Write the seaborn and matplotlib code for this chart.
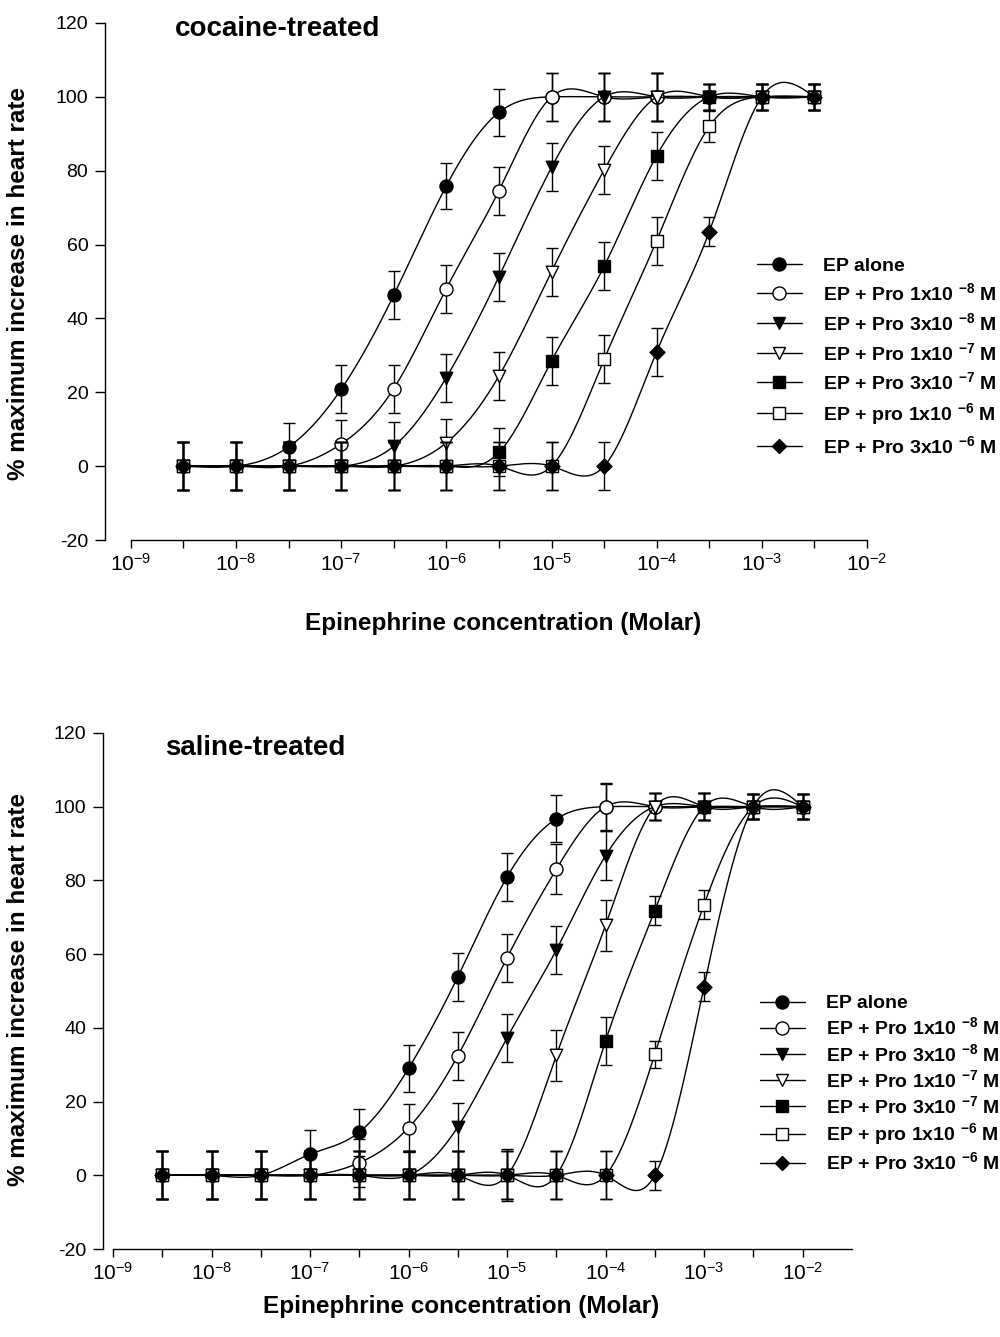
import numpy as np
import pandas as pd
import matplotlib
matplotlib.use("Agg")
import matplotlib.pyplot as plt
import seaborn as sns
from matplotlib.lines import Line2D
from matplotlib.ticker import FixedLocator, FixedFormatter, NullFormatter

# ---------------- data ----------------
series_labels = [
    "EP alone",
    r"EP + Pro 1x10 $^{\mathbf{-8}}$ M",
    r"EP + Pro 3x10 $^{\mathbf{-8}}$ M",
    r"EP + Pro 1x10 $^{\mathbf{-7}}$ M",
    r"EP + Pro 3x10 $^{\mathbf{-7}}$ M",
    r"EP + pro 1x10 $^{\mathbf{-6}}$ M",
    r"EP + Pro 3x10 $^{\mathbf{-6}}$ M",
]
series_markers = ["o", "o", "v", "v", "s", "s", "D"]
series_faces = ["black", "white", "black", "white", "black", "white", "black"]

# log10 of epinephrine concentration (M)
top_log_conc = [-8.5, -8.0, -7.5, -7.0, -6.5, -6.0, -5.5, -5.0, -4.5, -4.0, -3.5, -3.0, -2.5]
bottom_log_conc = [-8.5, -8.0, -7.5, -7.0, -6.5, -6.0, -5.5, -5.0, -4.5, -4.0, -3.5, -3.0, -2.5, -2.0]

# cocaine-treated (top)
top_ep_alone = [0, 0, 5.2, 20.8, 46.3, 75.9, 95.8, 100, 100, 100, 100, 100, 100]
top_pro_1e8 = [0, 0, 0, 6.0, 21.0, 48.1, 74.6, 100, 100, 100, 100, 100, 100]
top_pro_3e8 = [0, 0, 0, 0, 5.4, 24.0, 51.3, 80.9, 100, 100, 100, 100, 100]
top_pro_1e7 = [0, 0, 0, 0, 0, 6.3, 24.4, 52.7, 80.2, 100, 100, 100, 100]
top_pro_3e7 = [0, 0, 0, 0, 0, 0, 3.7, 28.5, 54.1, 84.1, 100, 100, 100]
top_pro_1e6 = [0, 0, 0, 0, 0, 0, 0, 0, 28.9, 61.1, 92.0, 100, 100]
top_pro_3e6 = [0, 0, 0, 0, 0, 0, 0, 0, 0, 31.0, 63.5, 100, 100]

top_sem_ep_alone = [6.5, 6.5, 6.5, 6.5, 6.5, 6.3, 6.3, 6.5, 6.5, 6.5, 3.6, 3.5, 3.5]
top_sem_pro_1e8 = [6.5, 6.5, 6.5, 6.5, 6.5, 6.5, 6.5, 6.5, 6.5, 6.5, 3.6, 3.5, 3.5]
top_sem_pro_3e8 = [6.5, 6.5, 6.5, 6.5, 6.5, 6.5, 6.5, 6.5, 6.5, 6.5, 3.6, 3.5, 3.5]
top_sem_pro_1e7 = [6.5, 6.5, 6.5, 6.5, 6.5, 6.5, 6.5, 6.5, 6.5, 6.5, 3.6, 3.5, 3.5]
top_sem_pro_3e7 = [6.5, 6.5, 6.5, 6.5, 6.5, 6.5, 6.5, 6.5, 6.5, 6.5, 3.6, 3.5, 3.5]
top_sem_pro_1e6 = [6.5, 6.5, 6.5, 6.5, 6.5, 6.5, 6.5, 6.5, 6.5, 6.5, 4.1, 3.5, 3.5]
top_sem_pro_3e6 = [6.5, 6.5, 6.5, 6.5, 6.5, 6.5, 6.5, 6.5, 6.5, 6.5, 3.9, 3.5, 3.5]

# saline-treated (bottom)
bot_ep_alone = [0, 0, 0, 5.7, 11.7, 29.0, 53.8, 80.9, 96.7, 100, 100, 100, 100, 100]
bot_pro_1e8 = [0, 0, 0, 0, 3.4, 12.9, 32.4, 59.0, 83.0, 100, 100, 100, 100, 100]
bot_pro_3e8 = [0, 0, 0, 0, 0, 0, 13.1, 37.3, 61.1, 86.7, 100, 100, 100, 100]
bot_pro_1e7 = [0, 0, 0, 0, 0, 0, 0, 0, 32.5, 67.8, 100, 100, 100, 100]
bot_pro_3e7 = [0, 0, 0, 0, 0, 0, 0, 0, 0, 36.4, 71.8, 100, 100, 100]
bot_pro_1e6 = [0, 0, 0, 0, 0, 0, 0, 0, 0, 0, 32.8, 73.4, 100, 100]
bot_pro_3e6 = [0, 0, 0, 0, 0, 0, 0, 0, 0, 0, 0, 51.2, 100, 100]

bot_sem_ep_alone = [6.5, 6.5, 6.5, 6.5, 6.4, 6.3, 6.4, 6.4, 6.4, 6.5, 3.6, 3.6, 3.4, 3.4]
bot_sem_pro_1e8 = [6.5, 6.5, 6.5, 6.5, 6.5, 6.5, 6.5, 6.5, 6.8, 6.2, 3.6, 3.6, 3.4, 3.4]
bot_sem_pro_3e8 = [6.5, 6.5, 6.5, 6.5, 6.5, 6.5, 6.5, 6.5, 6.5, 6.7, 3.6, 3.6, 3.4, 3.4]
bot_sem_pro_1e7 = [6.5, 6.5, 6.5, 6.5, 6.5, 6.5, 6.5, 7.0, 6.8, 6.9, 3.6, 3.6, 3.4, 3.4]
bot_sem_pro_3e7 = [6.5, 6.5, 6.5, 6.5, 6.5, 6.5, 6.5, 6.5, 6.5, 6.6, 3.9, 3.6, 3.4, 3.4]
bot_sem_pro_1e6 = [6.5, 6.5, 6.5, 6.5, 6.5, 6.5, 6.5, 6.5, 6.5, 6.5, 3.6, 3.9, 3.4, 3.4]
bot_sem_pro_3e6 = [6.5, 6.5, 6.5, 6.5, 6.5, 6.5, 6.5, 6.5, 6.5, 6.5, 4.0, 3.9, 3.4, 3.4]

y_ticks = [-20, 0, 20, 40, 60, 80, 100, 120]
x_decade_exps = [-9, -8, -7, -6, -5, -4, -3, -2]
x_tick_labels = [r"$10^{-9}$", r"$10^{-8}$", r"$10^{-7}$", r"$10^{-6}$",
                 r"$10^{-5}$", r"$10^{-4}$", r"$10^{-3}$", r"$10^{-2}$"]
panel_titles = ["cocaine-treated", "saline-treated"]
x_label = "Epinephrine concentration (Molar)"
y_label = "% maximum increase in heart rate"

top_values = [top_ep_alone, top_pro_1e8, top_pro_3e8, top_pro_1e7, top_pro_3e7, top_pro_1e6, top_pro_3e6]
top_sems = [top_sem_ep_alone, top_sem_pro_1e8, top_sem_pro_3e8, top_sem_pro_1e7, top_sem_pro_3e7,
            top_sem_pro_1e6, top_sem_pro_3e6]
bot_values = [bot_ep_alone, bot_pro_1e8, bot_pro_3e8, bot_pro_1e7, bot_pro_3e7, bot_pro_1e6, bot_pro_3e6]
bot_sems = [bot_sem_ep_alone, bot_sem_pro_1e8, bot_sem_pro_3e8, bot_sem_pro_1e7, bot_sem_pro_3e7,
            bot_sem_pro_1e6, bot_sem_pro_3e6]

# ---------------- style ----------------
sns.set_theme(style="ticks")
plt.rcParams["font.family"] = ["Liberation Sans", "DejaVu Sans"]
plt.rcParams["mathtext.fontset"] = "custom"
plt.rcParams["mathtext.rm"] = "Liberation Sans"
plt.rcParams["mathtext.it"] = "Liberation Sans:italic"
plt.rcParams["mathtext.bf"] = "Liberation Sans:bold"
plt.rcParams["axes.unicode_minus"] = False

marker_sizes = {"o": 88, "v": 80, "s": 70, "D": 58}
legend_ms = {"o": 9.4, "v": 9.0, "s": 8.4, "D": 7.6}


def smooth_curve(xk, yk, num=400):
    """Natural cubic spline through the data points (for drawing the curve)."""
    xk = np.asarray(xk, float)
    yk = np.asarray(yk, float)
    n = len(xk)
    h = np.diff(xk)
    A = np.zeros((n, n))
    b = np.zeros(n)
    A[0, 0] = 1.0
    A[-1, -1] = 1.0
    for i in range(1, n - 1):
        A[i, i - 1] = h[i - 1]
        A[i, i] = 2 * (h[i - 1] + h[i])
        A[i, i + 1] = h[i]
        b[i] = 6 * ((yk[i + 1] - yk[i]) / h[i] - (yk[i] - yk[i - 1]) / h[i - 1])
    M = np.linalg.solve(A, b)
    xs = np.linspace(xk[0], xk[-1], num)
    idx = np.clip(np.searchsorted(xk, xs) - 1, 0, n - 2)
    x0 = xk[idx]
    x1 = xk[idx + 1]
    hh = x1 - x0
    t0 = x1 - xs
    t1 = xs - x0
    ys = ((M[idx] * t0 ** 3 + M[idx + 1] * t1 ** 3) / (6 * hh)
          + (yk[idx] / hh - M[idx] * hh / 6) * t0
          + (yk[idx + 1] / hh - M[idx + 1] * hh / 6) * t1)
    return xs, ys


def draw_panel(ax, log_conc, values, sems):
    conc = 10.0 ** np.asarray(log_conc)
    for i, (vals, sem, mk, fc, lab) in enumerate(zip(values, sems, series_markers, series_faces, series_labels)):
        base = 10 + 3 * i
        xs, ys = smooth_curve(log_conc, vals)
        ax.plot(10.0 ** xs, ys, color="black", lw=1.0, zorder=base)
        ax.errorbar(conc, vals, yerr=sem, fmt="none", ecolor="black", elinewidth=1.0,
                    capsize=4, capthick=1.0, zorder=base + 1)
        df = pd.DataFrame({"conc": conc, "resp": vals})
        sns.scatterplot(data=df, x="conc", y="resp", marker=mk, color=fc, edgecolor="black",
                        linewidth=1.0, s=marker_sizes[mk], ax=ax, zorder=base + 2, legend=False)


def style_axes(ax, xlim_exp, spine_right_exp, long_ticks, low_labels, title, title_xy, legend_anchor,
               labelspacing, xlabel_xy, ylabel_xy):
    ax.set_xscale("log")
    ax.set_xlim(10.0 ** xlim_exp[0], 10.0 ** xlim_exp[1])
    ax.set_ylim(-20, 120)
    ax.set_yticks(y_ticks)
    for side in ["top", "right"]:
        ax.spines[side].set_visible(False)
    ax.spines["left"].set_bounds(-20, 120)
    ax.spines["bottom"].set_bounds(10.0 ** -9, 10.0 ** spine_right_exp)
    for side in ["left", "bottom"]:
        ax.spines[side].set_linewidth(1.0)
        ax.spines[side].set_color("black")
    decade_pos = [10.0 ** e for e in x_decade_exps if e <= spine_right_exp + 1e-9]
    labels = x_tick_labels[:len(decade_pos)]
    half_pos = [10.0 ** (e + 0.5) for e in x_decade_exps if e + 0.5 < spine_right_exp - 1e-9]
    ax.xaxis.set_major_locator(FixedLocator(decade_pos))
    ax.xaxis.set_major_formatter(FixedFormatter(labels))
    ax.xaxis.set_minor_locator(FixedLocator(half_pos))
    ax.xaxis.set_minor_formatter(NullFormatter())
    ax.tick_params(axis="x", which="both", direction="out", length=6, width=1.0, color="black",
                   labelsize=15, pad=3, labelcolor="black")
    ax.tick_params(axis="y", which="major", direction="out", length=7, width=1.0, color="black",
                   labelsize=14, pad=5, labelcolor="black")
    for t in ax.xaxis.get_major_ticks():
        e_loc = np.log10(t.get_loc())
        if any(abs(e_loc - e) < 1e-6 for e in long_ticks):
            t.tick1line.set_markersize(13)
        if any(abs(e_loc - e) < 1e-6 for e in low_labels):
            t.set_pad(11)
    ax.set_xlabel(x_label, fontsize=17.5, fontweight="bold", color="black")
    ax.set_ylabel(y_label, fontsize=17.5, fontweight="bold", color="black")
    ax.xaxis.set_label_coords(*xlabel_xy)
    ax.yaxis.set_label_coords(*ylabel_xy)
    ax.text(title_xy[0], title_xy[1], title, transform=ax.transAxes, fontsize=20,
            fontweight="bold", ha="left", va="center", color="black")
    handles = [Line2D([0], [0], color="black", lw=1.0, marker=mk, markerfacecolor=fc,
                      markeredgecolor="black", markeredgewidth=1.0, markersize=legend_ms[mk])
               for mk, fc in zip(series_markers, series_faces)]
    leg = ax.legend(handles, series_labels, loc="upper left", bbox_to_anchor=legend_anchor,
                    bbox_transform=ax.figure.transFigure, frameon=False, borderpad=0,
                    borderaxespad=0, handlelength=2.3, handletextpad=1.1, labelspacing=labelspacing,
                    prop={"weight": "bold", "size": 14})
    for txt in leg.get_texts():
        txt.set_color("black")


fig = plt.figure(figsize=(10, 13.37), dpi=100)
fig.patch.set_facecolor("white")

ax_top = fig.add_axes([0.105, 0.5961, 0.775, 0.3867])
ax_bot = fig.add_axes([0.103, 0.0658, 0.767, 0.386])
for a in (ax_top, ax_bot):
    a.set_facecolor("white")

draw_panel(ax_top, top_log_conc, top_values, top_sems)
draw_panel(ax_bot, bottom_log_conc, bot_values, bot_sems)

style_axes(ax_top, (-9.245, -1.877), -2.0, [-9, -2], [-2], panel_titles[0], (0.090, 0.988),
           (0.757, 0.8078), 0.4, (0.514, -0.139), (-0.097, 0.497))
style_axes(ax_bot, (-9.1015, -1.315), -1.5, [-9], [], panel_titles[1], (0.081, 0.970),
           (0.760, 0.2560), 0.22, (0.467, -0.089), (-0.095, 0.502))

fig.savefig("out.png", dpi=100, facecolor="white")
